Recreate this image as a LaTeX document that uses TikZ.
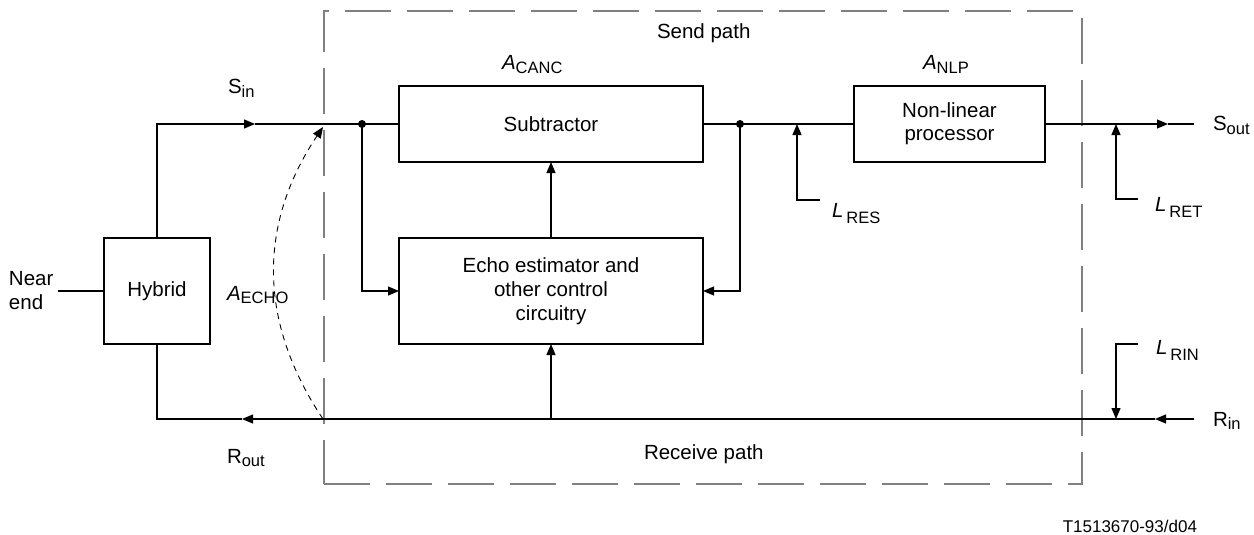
\documentclass[tikz,border=0pt]{standalone}
\usepackage{fontspec}
\setmainfont{Liberation Sans}
\usetikzlibrary{arrows.meta}
\newcommand{\subf}{\fontsize{16.5}{16.5}\selectfont}
\newcommand{\lowsub}[2]{\raisebox{-#1}{\subf #2}}
\begin{document}
\begin{tikzpicture}[x=1pt,y=-1pt,
  font=\fontsize{20.5}{24}\selectfont,
  box/.style={draw, line width=1.2pt, inner sep=0pt, outer sep=0pt, align=center},
  conn/.style={line width=1.2pt},
  arr/.style={conn, -{Triangle[length=11pt,width=9pt]}},
  lbl/.style={inner sep=0pt, outer sep=0pt, anchor=base west},
  dot/.style={circle, fill, inner sep=0pt, minimum size=8pt},
  framebox/.style={draw=gray, line width=1.5pt, dash pattern=on 46pt off 16pt, inner sep=0pt, outer sep=0pt},
  echoline/.style={line width=0.9pt, dash pattern=on 6pt off 5pt, -{Triangle[length=11pt,width=9pt]}}
]
\useasboundingbox (0,0) rectangle (1254,535);

% frame
\node[framebox, minimum width=758pt, minimum height=473pt] (frame) at (703,247.5) {};

% blocks
\node[box, minimum width=106pt, minimum height=106pt] (hyb) at (157,291) {Hybrid};
\node[box, minimum width=304pt, minimum height=76pt] (sub) at (551,124) {Subtractor};
\node[box, minimum width=304pt, minimum height=106pt] (echo) at (551,291) {Echo estimator and\\other control\\circuitry};
\node[box, minimum width=191pt, minimum height=76pt, font=\fontsize{20.5}{23}\selectfont] (nlp) at (949.5,124) {Non-linear\\processor};

% dots
\node[dot] (d1) at (362,124) {};
\node[dot] (d2) at (740,124) {};

% coordinates
\coordinate (sinarr) at (255,124);
\coordinate (soutarr) at (1168,124);
\coordinate (soutend) at (1194,124);
\coordinate (rinend) at (1194,419);
\coordinate (rinarr) at (1155,419);
\coordinate (routarr) at (242,419);
\coordinate (rx) at (551,419);
\coordinate (lres0) at (820,200);
\coordinate (lres1) at (797,124);
\coordinate (lret0) at (1138,199);
\coordinate (lret1) at (1116,124);
\coordinate (lrin0) at (1138,344);
\coordinate (lrin1) at (1116,419);
\coordinate (eb) at (323,419);
\coordinate (et) at (323,127);

% text labels
\node[lbl, align=left, anchor=west] (near) at (9,291) {Near\\end};
\node[lbl] (sendp) at (657,39) {Send path};
\node[lbl] (recvp) at (644,459) {Receive path};
\node[lbl] (acanc) at (502,70) {\textit{A}\lowsub{3.5pt}{CANC}};
\node[lbl] (anlp) at (923,70) {\textit{A}\lowsub{3.5pt}{NLP}};
\node[lbl] (aecho) at (227,300) {\textit{A}\lowsub{3.5pt}{ECHO}};
\node[lbl] (lres) at (832,217) {\textit{L}\hspace{3pt}\lowsub{6pt}{RES}};
\node[lbl] (lret) at (1155,211) {\textit{L}\hspace{3pt}\lowsub{6pt}{RET}};
\node[lbl] (lrin) at (1156,354) {\textit{L}\hspace{3pt}\lowsub{6pt}{RIN}};
\node[lbl] (sin) at (228,94) {S\lowsub{3.5pt}{in}};
\node[lbl] (sout) at (1213,131) {S\lowsub{3.5pt}{out}};
\node[lbl] (rin) at (1213,426) {R\lowsub{3.5pt}{in}};
\node[lbl] (rout) at (227,463) {R\lowsub{3.5pt}{out}};
\node[lbl, anchor=base east, font=\fontsize{17}{20}\selectfont] (fig) at (1197,532) {T1513670-93/d04};

% connectors
\draw[conn] ([xshift=5pt]near.east) -- (hyb.west);
\draw[arr] (hyb.north) |- (sinarr);
\draw[conn] (sinarr) -- (sub.west);
\draw[conn] (sub.east) -- (nlp.west);
\draw[arr] (nlp.east) -- (soutarr);
\draw[conn] (soutarr) -- (soutend);
\draw[arr] (d1.center) |- (echo.west);
\draw[arr] (d2.center) |- (echo.east);
\draw[arr] (echo.north) -- (sub.south);
\draw[arr] (rinend) -- (rinarr);
\draw[arr] (rinarr) -- (routarr);
\draw[conn] (routarr) -| (hyb.south);
\draw[arr] (rx) -- (echo.south);
\draw[arr] (lres0) -| (lres1);
\draw[arr] (lret0) -| (lret1);
\draw[arr] (lrin0) -| (lrin1);
\draw[echoline] (eb) .. controls (258,322) and (258,224) .. (et);
\end{tikzpicture}
\end{document}
